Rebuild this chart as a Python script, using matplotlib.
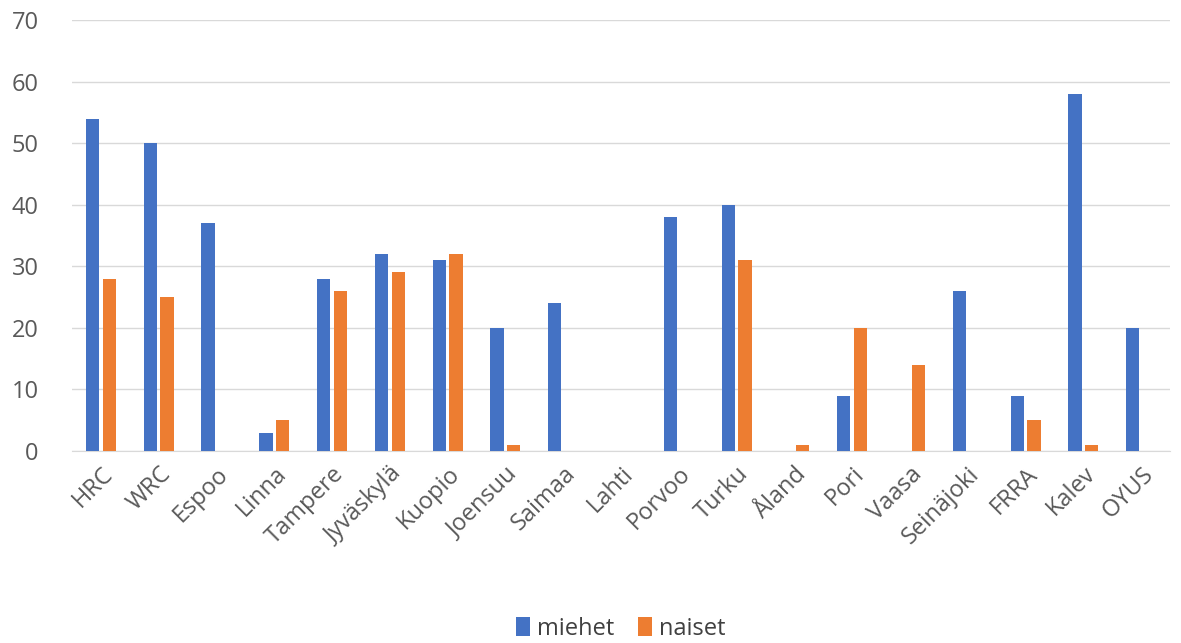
import matplotlib
matplotlib.use("Agg")
import matplotlib.pyplot as plt
import numpy as np

categories = ["HRC", "WRC", "Espoo", "Linna", "Tampere", "Jyväskylä", "Kuopio", "Joensuu",
              "Saimaa", "Lahti", "Porvoo", "Turku", "Åland", "Pori", "Vaasa", "Seinäjoki",
              "FRRA", "Kalev", "OYUS"]
miehet = [54, 50, 37, 3, 28, 32, 31, 20, 24, 0, 38, 40, 0, 9, 0, 26, 9, 58, 20]
naiset = [28, 25, 0, 5, 26, 29, 32, 1, 0, 0, 0, 31, 1, 20, 14, 0, 5, 1, 0]
yticks = [0, 10, 20, 30, 40, 50, 60, 70]

plt.rcParams['font.family'] = ['Open Sans', 'DejaVu Sans']

fig = plt.figure(figsize=(11.81, 6.43), dpi=100)
ax = fig.add_axes([72/1181, 1 - 451/643, 1098/1181, 431/643])

x = np.arange(len(categories))
w = 0.23
blue = "#4472C4"
orange = "#ED7D31"
ax.bar(x - 0.145, miehet, w, color=blue, label="miehet", zorder=3)
ax.bar(x + 0.145, naiset, w, color=orange, label="naiset", zorder=3)

ax.set_xlim(-0.5, len(categories) - 0.5)
ax.set_ylim(0, 70)
ax.set_yticks(yticks)
ax.yaxis.grid(True, color="#D9D9D9", linewidth=1, zorder=0)
for s in ["top", "right", "left"]:
    ax.spines[s].set_visible(False)
ax.spines["bottom"].set_color("#D9D9D9")
ax.tick_params(axis="both", length=0, colors="#595959", labelsize=17)
ax.tick_params(axis="y", pad=24)
ax.set_xticks(x)
ax.set_xticklabels(categories, rotation=45, ha="right", rotation_mode="anchor")
ax.tick_params(axis="x", pad=8)

leg = ax.legend(loc="upper center", bbox_to_anchor=(0.5, -0.335), ncol=2, frameon=False,
                fontsize=17, handlelength=0.6, handleheight=0.9, handletextpad=0.3,
                columnspacing=1.0, labelcolor="#404040")

fig.savefig("out.png", dpi=100)
